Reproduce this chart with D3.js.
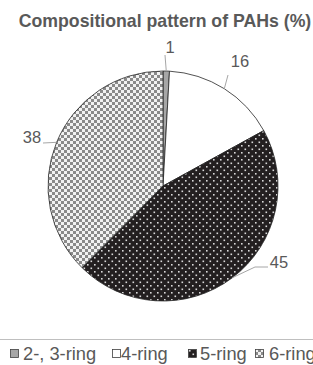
<!DOCTYPE html>
<html>
<head>
<meta charset="utf-8">
<script src="https://cdn.jsdelivr.net/npm/d3@7"></script>
<style>
  body { margin: 0; background: #fff; }
  svg { display: block; }
</style>
</head>
<body>
<div id="chart"></div>
<script>
// data
const categories = ['2-, 3-ring', '4-ring', '5-ring', '6-ring'];
const shares = [0.9, 16.1, 45.4, 37.6];
const labelTexts = ['1', '16', '45', '38'];
const title = 'Compositional pattern of PAHs (%)';

const width = 313, height = 365;
const cx = 163, cy = 186, radius = 115;

const svg = d3.select('#chart').append('svg')
  .attr('width', width)
  .attr('height', height);

// fill patterns, one per slice
const defs = svg.append('defs');

let p = defs.append('pattern').attr('id', 'pat5')
  .attr('patternUnits', 'userSpaceOnUse').attr('width', 7).attr('height', 7);
p.append('rect').attr('width', 7).attr('height', 7).attr('fill', '#231f20');
p.append('rect').attr('x', 1).attr('y', 1).attr('width', 1.6).attr('height', 1.6).attr('fill', '#d9d9d9');
p.append('rect').attr('x', 4.5).attr('y', 4.5).attr('width', 1.6).attr('height', 1.6).attr('fill', '#d9d9d9');

p = defs.append('pattern').attr('id', 'pat6')
  .attr('patternUnits', 'userSpaceOnUse').attr('width', 6).attr('height', 6);
p.append('rect').attr('width', 6).attr('height', 6).attr('fill', '#8a8a8a');
p.append('rect').attr('x', 0).attr('y', 0).attr('width', 3).attr('height', 3).attr('fill', '#f2f2f2');
p.append('rect').attr('x', 3).attr('y', 3).attr('width', 3).attr('height', 3).attr('fill', '#f2f2f2');

const fills = ['#a6a6a6', '#ffffff', 'url(#pat5)', 'url(#pat6)'];

// title
svg.append('text')
  .attr('x', 165)
  .attr('y', 27)
  .attr('text-anchor', 'middle')
  .attr('font-family', 'Liberation Sans, Arial, sans-serif')
  .attr('font-weight', 'bold')
  .attr('font-size', 17.7)
  .attr('fill', '#595959')
  .text(title);

const pie = d3.pie().sort(null).value(d => d);
const arcs = pie(shares);
const arc = d3.arc().innerRadius(0).outerRadius(radius);

const g = svg.append('g').attr('transform', `translate(${cx},${cy})`);

g.selectAll('path.slice')
  .data(arcs)
  .enter()
  .append('path')
  .attr('class', 'slice')
  .attr('d', arc)
  .attr('fill', (d, i) => fills[i])
  .attr('stroke', '#262626')
  .attr('stroke-width', 0.8);

// data labels: leader from mid-angle point on the rim to the label
// (label offsets from the pie centre, matching the Excel layout)
const labelAt = [[7, -133], [77, -119], [116, 82], [-131, -43]];
const leaderEnd = [[2, -131], [65, -111], [105, 81], [-120, -43]];
const elbow = [null, null, [92, 81], null];

function rimPoint(d) {
  const a = (d.startAngle + d.endAngle) / 2;
  return [radius * Math.sin(a), -radius * Math.cos(a)];
}

const line = d3.line();
arcs.forEach((d, i) => {
  const pts = [rimPoint(d)];
  if (elbow[i]) pts.push(elbow[i]);
  pts.push(leaderEnd[i]);
  g.append('path')
    .attr('d', line(pts))
    .attr('fill', 'none')
    .attr('stroke', '#a6a6a6')
    .attr('stroke-width', 1);
  g.append('text')
    .attr('x', labelAt[i][0])
    .attr('y', labelAt[i][1])
    .attr('text-anchor', 'middle')
    .attr('font-family', 'Liberation Sans, Arial, sans-serif')
    .attr('font-size', 16.5)
    .attr('fill', '#595959')
    .text(labelTexts[i]);
});

// legend
svg.append('line')
  .attr('x1', 0).attr('x2', width)
  .attr('y1', 339.5).attr('y2', 339.5)
  .attr('stroke', '#bfbfbf')
  .attr('stroke-width', 1);

const legendX = [10, 112, 188, 255];
const textX = [23, 121, 200, 269];
const lg = svg.selectAll('g.legend')
  .data(categories)
  .enter()
  .append('g')
  .attr('class', 'legend')
  .attr('transform', (d, i) => `translate(${legendX[i]},349)`);

lg.append('rect')
  .attr('x', 0.5).attr('y', 0.5)
  .attr('width', 8).attr('height', 8)
  .attr('fill', (d, i) => fills[i])
  .attr('stroke', '#404040')
  .attr('stroke-width', 0.8);

lg.append('text')
  .attr('x', (d, i) => textX[i] - legendX[i])
  .attr('y', 11)
  .attr('font-family', 'Liberation Sans, Arial, sans-serif')
  .attr('font-size', 18.3)
  .attr('fill', '#595959')
  .text(d => d);
</script>
</body>
</html>
